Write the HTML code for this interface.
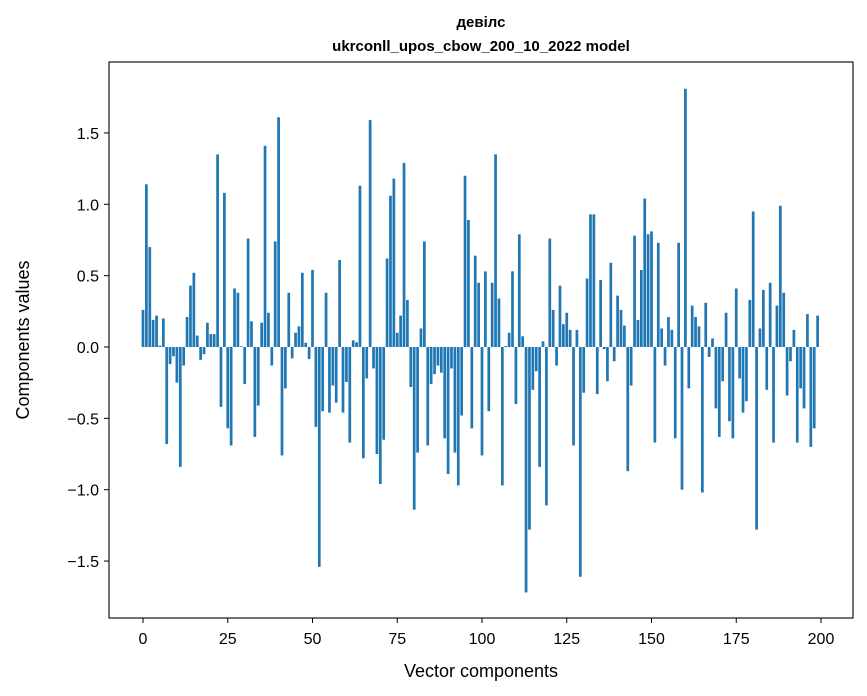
<!DOCTYPE html>
<html><head><meta charset="utf-8"><style>
body{margin:0;background:#fff;}
svg{display:block;font-family:"Liberation Sans","DejaVu Sans",sans-serif;}
</style></head><body>
<svg id="chart" width="867" height="696" viewBox="0 0 867 696" xmlns="http://www.w3.org/2000/svg">
<rect width="867" height="696" fill="#fff"/>
<text x="481" y="27" font-size="15" font-weight="bold" text-anchor="middle">девілс</text>
<text x="481" y="51" font-size="15" font-weight="bold" text-anchor="middle">ukrconll_upos_cbow_200_10_2022 model</text>
<g id="bars"></g>
<g id="xticks"></g>
<g id="yticks"></g>
<rect x="109" y="62" width="744" height="556" fill="none" stroke="#000" stroke-width="1.1"/>
<text x="481" y="677" font-size="18" text-anchor="middle">Vector components</text>
<text x="0" y="0" font-size="18" text-anchor="middle" transform="translate(29,340) rotate(-90)">Components values</text>
</svg>
<script>
const values = [0.26,1.14,0.70,0.19,0.22,0.01,0.20,-0.68,-0.12,-0.065,-0.25,-0.84,-0.13,0.21,0.43,0.52,0.08,-0.09,-0.05,0.17,
0.09,0.09,1.35,-0.42,1.08,-0.57,-0.69,0.41,0.38,0.005,-0.26,0.76,0.18,-0.63,-0.41,0.17,1.41,0.24,-0.13,0.74,
1.61,-0.76,-0.29,0.38,-0.08,0.10,0.145,0.52,0.03,-0.085,0.54,-0.56,-1.54,-0.45,0.38,-0.46,-0.27,-0.39,0.61,-0.46,
-0.245,-0.67,0.047,0.033,1.13,-0.78,-0.22,1.59,-0.15,-0.75,-0.96,-0.65,0.62,1.06,1.18,0.10,0.22,1.29,0.33,-0.28,
-1.14,-0.74,0.13,0.74,-0.69,-0.26,-0.19,-0.13,-0.18,-0.64,-0.89,-0.15,-0.74,-0.97,-0.48,1.20,0.89,-0.57,0.64,0.45,
-0.76,0.53,-0.45,0.45,1.35,0.34,-0.97,0.007,0.10,0.53,-0.40,0.79,0.075,-1.72,-1.28,-0.30,-0.17,-0.84,0.04,-1.11,
0.76,0.26,-0.13,0.43,0.16,0.24,0.12,-0.69,0.12,-1.61,-0.32,0.48,0.93,0.93,-0.33,0.47,-0.015,-0.24,0.59,-0.10,
0.36,0.26,0.15,-0.87,-0.27,0.78,0.19,0.54,1.04,0.79,0.81,-0.67,0.73,0.13,-0.13,0.21,0.12,-0.64,0.73,-1.00,
1.81,-0.29,0.29,0.21,0.145,-1.02,0.31,-0.07,0.06,-0.43,-0.63,-0.24,0.24,-0.52,-0.64,0.41,-0.22,-0.46,-0.38,0.33,
0.95,-1.28,0.13,0.40,-0.30,0.45,-0.67,0.29,0.99,0.38,-0.34,-0.10,0.12,-0.67,-0.29,-0.43,0.23,-0.70,-0.57,0.22];
const xTicks = [0,25,50,75,100,125,150,175,200];
const yTicks = [-1.5,-1.0,-0.5,0.0,0.5,1.0,1.5];
const yTickLabels = ["\u22121.5","\u22121.0","\u22120.5","0.0","0.5","1.0","1.5"];

const NS = "http://www.w3.org/2000/svg";
function xs(i){ return 143 + i*3.39; }
function ys(v){ return 347 - v*142.7; }
const bw = 3.39*0.8;
const gb = document.getElementById('bars');
values.forEach((v,i)=>{
  const r = document.createElementNS(NS,'rect');
  
  
  const y0 = ys(0), y1 = ys(v);
  r.setAttribute('x', xs(i)-bw/2);
  r.setAttribute('y', Math.min(y0,y1));
  r.setAttribute('width', bw);
  r.setAttribute('height', Math.max(Math.abs(y1-y0),0.3));
  r.setAttribute('fill', '#1f77b4');
  gb.appendChild(r);
});
const gx = document.getElementById('xticks');
xTicks.forEach(t=>{
  const l = document.createElementNS(NS,'line');
  
  
  l.setAttribute('x1', xs(t)); l.setAttribute('x2', xs(t));
  l.setAttribute('y1', 618); l.setAttribute('y2', 623);
  l.setAttribute('stroke', '#000');
  gx.appendChild(l);
  const tx = document.createElementNS(NS,'text');
  
  
  tx.setAttribute('x', xs(t)); tx.setAttribute('y', 644);
  tx.setAttribute('font-size', '16'); tx.setAttribute('text-anchor', 'middle');
  tx.textContent = String(t);
  gx.appendChild(tx);
});
const gy = document.getElementById('yticks');
yTicks.forEach((t,k)=>{
  const l = document.createElementNS(NS,'line');
  
  
  l.setAttribute('x1', 104); l.setAttribute('x2', 109);
  l.setAttribute('y1', ys(t)); l.setAttribute('y2', ys(t));
  l.setAttribute('stroke', '#000');
  gy.appendChild(l);
  const tx = document.createElementNS(NS,'text');
  
  
  tx.setAttribute('x', 99); tx.setAttribute('y', ys(t)+6);
  tx.setAttribute('font-size', '16'); tx.setAttribute('text-anchor', 'end');
  tx.textContent = yTickLabels[k];
  gy.appendChild(tx);
});
</script>
</body></html>
